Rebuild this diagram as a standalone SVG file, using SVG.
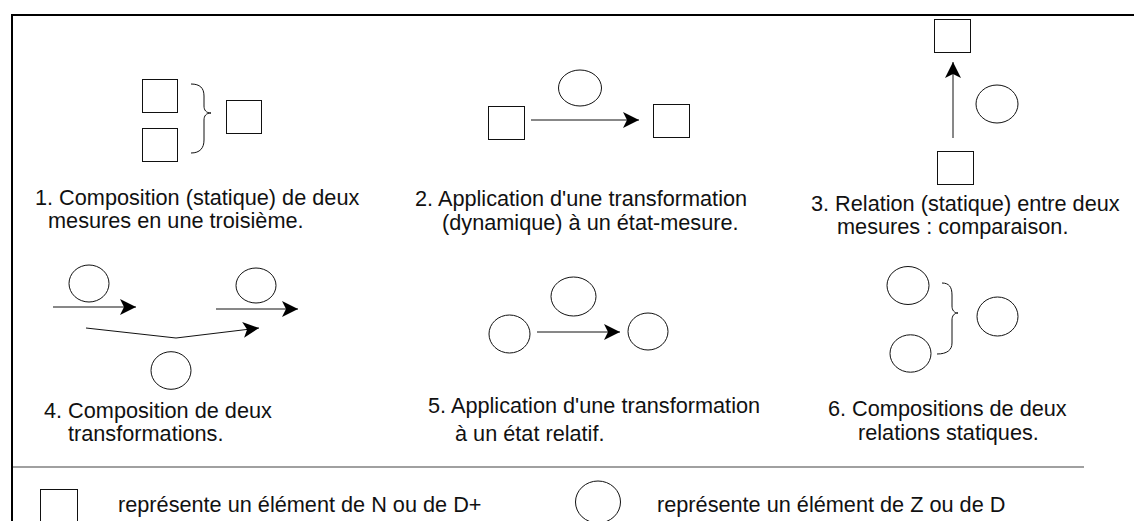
<svg xmlns="http://www.w3.org/2000/svg" width="1134" height="521" viewBox="0 0 1134 521">
<style>
.sq{fill:#fff;stroke:#111;stroke-width:1}
.el{fill:#fff;stroke:#111;stroke-width:1}
.br{fill:none;stroke:#111;stroke-width:1}
.ar{fill:none;stroke:#111;stroke-width:1}
.t{font-family:"Liberation Sans",Arial,sans-serif;font-size:21.7px;fill:#111}
</style>
<defs>
<marker id="ah" markerUnits="userSpaceOnUse" markerWidth="17" markerHeight="16" refX="16" refY="8" orient="auto">
<path d="M0,0 L16,8 L0,16 L4,8 z" fill="#000"/>
</marker>
</defs>
<rect width="1134" height="521" fill="#fff"/>
<g id="frame">
<line x1="11" y1="15" x2="1134" y2="15" stroke="#000" stroke-width="2"/>
<line x1="12" y1="14" x2="12" y2="521" stroke="#000" stroke-width="2"/>
<line x1="13" y1="467" x2="1084" y2="467" stroke="#808080" stroke-width="1.5"/>
</g>
<g id="panel1">
<rect class="sq" x="142.5" y="79.5" width="35" height="33"/>
<rect class="sq" x="142.5" y="128.5" width="35" height="33"/>
<rect class="sq" x="226.5" y="100.5" width="35" height="33"/>
<path class="br" d="M191,84 C200,84 204,88 204,96 L204,106 C204,110 206,113 211,113 C206,113 204,116 204,120 L204,140 C204,148 200,153 191,153"/>
<text class="t" x="35" y="205">1. Composition (statique) de deux</text>
<text class="t" x="48" y="228">mesures en une troisième.</text>
</g>
<g id="panel2">
<rect class="sq" x="488.5" y="106.5" width="36" height="33"/>
<rect class="sq" x="653.5" y="104.5" width="36" height="33"/>
<ellipse class="el" cx="580" cy="88" rx="21.5" ry="18"/>
<text class="t" x="415" y="206">2. Application d'une transformation</text>
<text class="t" x="442" y="230">(dynamique) à un état-mesure.</text>
</g>
<g id="panel3">
<rect class="sq" x="934.5" y="19.5" width="36" height="33"/>
<rect class="sq" x="937.5" y="151.5" width="36" height="33"/>
<ellipse class="el" cx="997" cy="104" rx="21" ry="19"/>
<text class="t" x="811" y="211">3. Relation (statique) entre deux</text>
<text class="t" x="837" y="234">mesures : comparaison.</text>
</g>
<g id="panel4">
<ellipse class="el" cx="89" cy="283.5" rx="20" ry="18.5"/>
<ellipse class="el" cx="256" cy="285.5" rx="20" ry="17.5"/>
<ellipse class="el" cx="171" cy="370.5" rx="20" ry="18.8"/>
<text class="t" x="44" y="418">4. Composition de deux</text>
<text class="t" x="68" y="441">transformations.</text>
</g>
<g id="panel5">
<ellipse class="el" cx="573.5" cy="296.5" rx="22.5" ry="19.5"/>
<ellipse class="el" cx="509.5" cy="334" rx="20.5" ry="19"/>
<ellipse class="el" cx="648" cy="331.5" rx="20" ry="18.5"/>
<text class="t" x="428" y="413">5. Application d'une transformation</text>
<text class="t" x="455" y="441">à un état relatif.</text>
</g>
<g id="panel6">
<ellipse class="el" cx="908" cy="285.5" rx="21" ry="19"/>
<ellipse class="el" cx="910.5" cy="353.5" rx="20.5" ry="18.7"/>
<ellipse class="el" cx="997.5" cy="316.5" rx="20.5" ry="19.5"/>
<path class="br" d="M942,283 C949,283 952,287 952,295 L952,306 C952,310 954,313 958,313 C954,313 952,316 952,320 L952,343 C952,350 947,354 937,354"/>
<text class="t" x="828" y="416">6. Compositions de deux</text>
<text class="t" x="858" y="440">relations statiques.</text>
</g>
<g id="legend">
<rect class="sq" x="40.5" y="489.5" width="37" height="40"/>
<text class="t" x="118" y="512">représente un élément de N ou de D+</text>
<ellipse class="el" cx="598" cy="502" rx="22.5" ry="21"/>
<text class="t" x="657" y="512">représente un élément de Z ou de D</text>
</g>
<g id="connectors">
<line class="ar" x1="531" y1="120" x2="639" y2="120" marker-end="url(#ah)"/>
<line class="ar" x1="953" y1="138" x2="953" y2="62" marker-end="url(#ah)"/>
<line class="ar" x1="53" y1="307" x2="136" y2="307" marker-end="url(#ah)"/>
<line class="ar" x1="216" y1="309" x2="298" y2="309" marker-end="url(#ah)"/>
<polyline class="ar" points="86,328 176,338 259,328" marker-end="url(#ah)"/>
<line class="ar" x1="537" y1="332" x2="620" y2="332" marker-end="url(#ah)"/>
</g>
</svg>
